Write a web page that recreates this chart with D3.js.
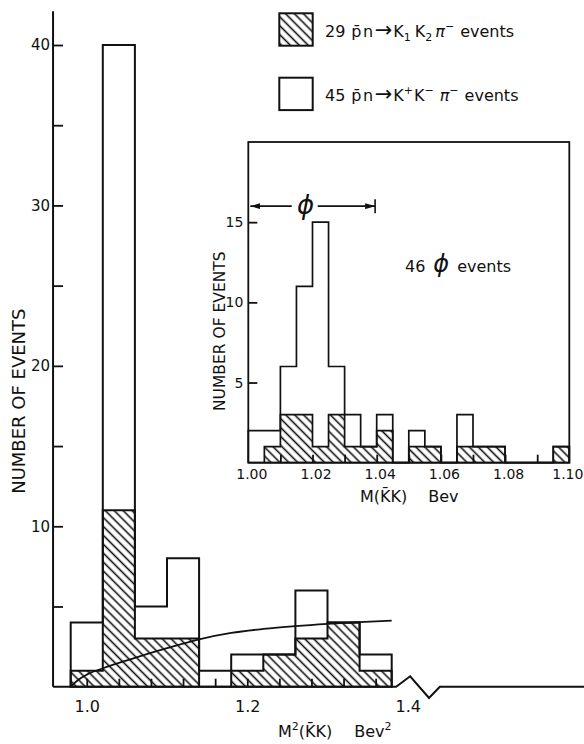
<!DOCTYPE html>
<html>
<head>
<meta charset="utf-8">
<script src="https://cdn.jsdelivr.net/npm/d3@7"></script>
<style>
  body { margin: 0; background: #fff; }
  svg text { font-family: "DejaVu Sans", sans-serif; fill: #111; }
</style>
</head>
<body>
<svg id="chart" width="584" height="744"></svg>
<script>
// main histogram, M^2(KK) in bins of 0.04 Bev^2
const mainEdges = [0.98, 1.02, 1.06, 1.10, 1.14, 1.18, 1.22, 1.26, 1.30, 1.34, 1.38];
const mainTotal = [4, 40, 5, 8, 1, 2, 2, 6, 4, 2];      // K1K2pi + K+K-pi
const mainHatched = [1, 11, 3, 3, 0, 1, 2, 3, 4, 1];    // K1K2pi only
const mainMinorY = [5, 10, 15, 20, 25, 30, 35, 40];
const mainLabelY = [10, 20, 30, 40];
const mainTickX = [1.00, 1.04, 1.08, 1.12, 1.16, 1.20, 1.24, 1.28, 1.32, 1.36];
const mainLabelX = [1.0, 1.2, 1.4];

// phase space curve
const curveM2 = [0.98, 0.99, 1.00, 1.02, 1.06, 1.10, 1.14, 1.18, 1.22, 1.26, 1.30, 1.34, 1.38];
const curveN = [0, 0.45, 0.75, 1.15, 1.8, 2.4, 2.95, 3.35, 3.6, 3.78, 3.92, 4.03, 4.12];

// inset, M(KK) in bins of 0.005 Bev
const insetEdges = [1.000, 1.005, 1.010, 1.015, 1.020, 1.025, 1.030, 1.035, 1.040, 1.045, 1.050,
                    1.055, 1.060, 1.065, 1.070, 1.075, 1.080, 1.085, 1.090, 1.095, 1.100];
const insetTotal = [2, 2, 6, 11, 15, 6, 3, 1, 3, 0, 2, 1, 0, 3, 1, 1, 0, 0, 0, 1];
const insetHatched = [0, 1, 3, 3, 1, 3, 1, 1, 2, 0, 1, 1, 0, 1, 1, 1, 0, 0, 0, 1];
const insetMinorY = [5, 10, 15];
const insetTickX = [1.01, 1.02, 1.03, 1.04, 1.05, 1.06, 1.07, 1.08, 1.09];
const insetLabelX = [1.00, 1.02, 1.04, 1.06, 1.08, 1.10];
const phiBand = [1.0, 1.0395];

const ink = "#111";
const width = 584;

const svg = d3.select("#chart");

let xMain = d3.scaleLinear().domain([1.0, 1.4]).range([86.75, 407.75]);
let yMain = d3.scaleLinear().domain([0, 40]).range([686.7, 45]);
let mainXMin = 0.958;   // where the y axis sits
let mainYMax = 42.1;

let xIn = d3.scaleLinear().domain([1.0, 1.1]).range([248.3, 569.3]);
let yIn = d3.scaleLinear().domain([0, 20]).range([462.7, 142]);

// hatch pattern
const defs = svg.append("defs");
defs.append("pattern")
  .attr("id", "hatch")
  .attr("patternUnits", "userSpaceOnUse")
  .attr("width", 10)
  .attr("height", 6.3)
  .attr("patternTransform", "rotate(45)")
  .append("line")
    .attr("x1", 0).attr("x2", 10)
    .attr("y1", 3.1).attr("y2", 3.1)
    .attr("stroke", ink)
    .attr("stroke-width", 1.6);

defs.append("marker")
  .attr("id", "head")
  .attr("viewBox", "0 0 10 6")
  .attr("refX", 10).attr("refY", 3)
  .attr("markerWidth", 10).attr("markerHeight", 6)
  .attr("markerUnits", "userSpaceOnUse")
  .attr("orient", "auto-start-reverse")
  .append("path")
    .attr("d", "M0,0 L10,3 L0,6 Z")
    .attr("fill", ink);

function stepPoints(edges, counts) {
  let pts = [[edges[0], 0]];
  counts.forEach((c, i) => {
    pts.push([edges[i], c], [edges[i + 1], c]);
  });
  pts.push([edges[edges.length - 1], 0]);
  return pts;
}

function styleAxis(g, size) {
  g.select(".domain").remove();
  g.attr("font-family", null).attr("font-size", size);
  g.selectAll("line").attr("stroke", ink).attr("stroke-width", 1.8);
  g.selectAll("text").attr("fill", ink);
}

function drawHist(x, y, edges, total, hatched, sw) {
  let line = d3.line().x(d => x(d[0])).y(d => y(d[1]));
  let hp = stepPoints(edges, hatched);
  svg.append("path")
    .attr("d", line(hp) + "Z")
    .attr("fill", "url(#hatch)")
    .attr("stroke", ink)
    .attr("stroke-width", sw);
  svg.append("path")
    .attr("d", line(stepPoints(edges, total)))
    .attr("fill", "none")
    .attr("stroke", ink)
    .attr("stroke-width", sw)
    .attr("stroke-linejoin", "miter");
}

// ---------- main plot ----------
drawHist(xMain, yMain, mainEdges, mainTotal, mainHatched, 2);

svg.append("path")
  .datum(curveM2.map((m, i) => [m, curveN[i]]))
  .attr("d", d3.line().curve(d3.curveMonotoneX).x(d => xMain(d[0])).y(d => yMain(d[1])))
  .attr("fill", "none")
  .attr("stroke", ink)
  .attr("stroke-width", 1.8);

// y axis
svg.append("line")
  .attr("x1", xMain(mainXMin)).attr("x2", xMain(mainXMin))
  .attr("y1", yMain(0)).attr("y2", yMain(mainYMax))
  .attr("stroke", ink).attr("stroke-width", 2);

svg.append("g")
  .attr("transform", "translate(" + xMain(mainXMin) + ",0)")
  .call(d3.axisRight(yMain).tickValues(mainMinorY).tickSize(10).tickFormat(""))
  .call(g => styleAxis(g, 15));

svg.append("g")
  .attr("transform", "translate(" + xMain(mainXMin) + ",0)")
  .call(d3.axisLeft(yMain).tickValues(mainLabelY).tickSize(0).tickPadding(3))
  .call(g => styleAxis(g, 15));

// x axis with break
let breakPts = [[mainXMin, 0], [1.3855, 0], [1.403, 0.65], [1.4265, -0.7], [1.440, 0]];
svg.append("path")
  .attr("d", d3.line().x(d => xMain(d[0])).y(d => yMain(d[1]))(breakPts) + "H" + width)
  .attr("fill", "none")
  .attr("stroke", ink)
  .attr("stroke-width", 2);

svg.append("g")
  .attr("transform", "translate(0," + yMain(0) + ")")
  .call(d3.axisTop(xMain).tickValues(mainTickX).tickSize(8).tickFormat(""))
  .call(g => styleAxis(g, 16));

svg.append("g")
  .attr("transform", "translate(0," + yMain(0) + ")")
  .call(d3.axisBottom(xMain).tickValues(mainLabelX).tickSize(0).tickPadding(14).tickFormat(d3.format(".1f")))
  .call(g => styleAxis(g, 16));

svg.append("text")
  .attr("transform", "translate(25," + yMain(17.8) + ") rotate(-90)")
  .attr("text-anchor", "middle")
  .attr("font-size", 18)
  .text("NUMBER OF EVENTS");

let xt = svg.append("text")
  .attr("x", 278).attr("y", 737)
  .attr("font-size", 16);
xt.append("tspan").text("M");
xt.append("tspan").attr("font-size", 11).attr("dy", -7).text("2");
xt.append("tspan").attr("dy", 7).text("(K\u0304K)");
xt.append("tspan").attr("dx", 22).text("Bev");
xt.append("tspan").attr("font-size", 11).attr("dy", -7).text("2");

// ---------- legend ----------
let legendRows = [
  { y: 13.3, hatched: true },
  { y: 77.7, hatched: false }
];
svg.selectAll(".legbox")
  .data(legendRows)
  .enter()
  .append("rect")
    .attr("class", "legbox")
    .attr("x", 279.3)
    .attr("y", d => d.y)
    .attr("width", 33.4)
    .attr("height", 32.4)
    .attr("fill", d => d.hatched ? "url(#hatch)" : "#fff")
    .attr("stroke", ink)
    .attr("stroke-width", 2);

function legendText(y, count, sup1, sup2, subs) {
  let t = svg.append("text").attr("x", 325).attr("y", y).attr("font-size", 16);
  t.append("tspan").text(count);
  t.append("tspan").attr("dx", 6).attr("letter-spacing", 1.5).text("p\u0304n");
  t.append("tspan").attr("font-size", 21).attr("dx", 0).text("\u2192");
  t.append("tspan").attr("dx", 1).text("K");
  if (subs) {
    t.append("tspan").attr("font-size", 11).attr("dy", 4).text("1");
    t.append("tspan").attr("dy", -4).attr("dx", 4).text("K");
    t.append("tspan").attr("font-size", 11).attr("dy", 4).text("2");
    t.append("tspan").attr("dy", -4).attr("dx", 3).attr("font-style", "italic").text("\u03c0");
  } else {
    t.append("tspan").attr("font-size", 11).attr("dy", -7).text(sup1);
    t.append("tspan").attr("dy", 7).attr("dx", 1).text("K");
    t.append("tspan").attr("font-size", 11).attr("dy", -7).text(sup2);
    t.append("tspan").attr("dy", 7).attr("dx", 6).attr("font-style", "italic").text("\u03c0");
  }
  t.append("tspan").attr("font-size", 11).attr("dy", -7).text("\u2212");
  t.append("tspan").attr("dy", 7).attr("dx", 6).text("events");
}
legendText(36.7, "29", null, null, true);
legendText(101, "45", "+", "\u2212", false);

// ---------- inset ----------
svg.append("rect")
  .attr("x", xIn(1.0)).attr("y", yIn(20))
  .attr("width", xIn(1.1) - xIn(1.0))
  .attr("height", yIn(0) - yIn(20))
  .attr("fill", "#fff")
  .attr("stroke", ink)
  .attr("stroke-width", 1.8);

drawHist(xIn, yIn, insetEdges, insetTotal, insetHatched, 1.7);

svg.append("g")
  .attr("transform", "translate(" + xIn(1.0) + ",0)")
  .call(d3.axisRight(yIn).tickValues(insetMinorY).tickSize(9).tickFormat(""))
  .call(g => styleAxis(g, 14));

svg.append("g")
  .attr("transform", "translate(" + xIn(1.0) + ",0)")
  .call(d3.axisLeft(yIn).tickValues(insetMinorY).tickSize(0).tickPadding(5))
  .call(g => styleAxis(g, 14));

svg.append("g")
  .attr("transform", "translate(0," + yIn(0) + ")")
  .call(d3.axisTop(xIn).tickValues(insetTickX).tickSize(8).tickFormat(""))
  .call(g => styleAxis(g, 14));

svg.append("g")
  .attr("transform", "translate(0," + yIn(0) + ")")
  .call(d3.axisBottom(xIn).tickValues(insetLabelX).tickSize(0).tickPadding(6).tickFormat(d3.format(".2f")))
  .call(g => styleAxis(g, 14))
  .call(g => g.selectAll("text").attr("dx", (d, i, n) => i === n.length - 1 ? -2 : 3));

svg.append("text")
  .attr("transform", "translate(225," + yIn(8.2) + ") rotate(-90)")
  .attr("text-anchor", "middle")
  .attr("font-size", 15.5)
  .text("NUMBER OF EVENTS");

let it = svg.append("text")
  .attr("x", 360).attr("y", 502)
  .attr("font-size", 16);
it.append("tspan").text("M(K\u0304K)");
it.append("tspan").attr("dx", 21).text("Bev");

// phi band arrow
let phiY = yIn(16);
let phiMid = xIn((phiBand[0] + phiBand[1]) / 2) - 6;
svg.append("line")
  .attr("x1", phiMid - 14).attr("x2", xIn(phiBand[0]) + 2)
  .attr("y1", phiY).attr("y2", phiY)
  .attr("stroke", ink).attr("stroke-width", 1.6)
  .attr("marker-end", "url(#head)");
svg.append("line")
  .attr("x1", phiMid + 12).attr("x2", xIn(phiBand[1]))
  .attr("y1", phiY).attr("y2", phiY)
  .attr("stroke", ink).attr("stroke-width", 1.6)
  .attr("marker-end", "url(#head)");
svg.append("line")
  .attr("x1", xIn(phiBand[1])).attr("x2", xIn(phiBand[1]))
  .attr("y1", phiY - 7).attr("y2", phiY + 7)
  .attr("stroke", ink).attr("stroke-width", 1.6);
svg.append("text")
  .attr("x", phiMid).attr("y", phiY + 8)
  .attr("text-anchor", "middle")
  .attr("font-size", 26)
  .attr("font-style", "italic")
  .text("\u03d5");

let ev = svg.append("text")
  .attr("x", 405).attr("y", 271.7)
  .attr("font-size", 16);
ev.append("tspan").text("46");
ev.append("tspan").attr("dx", 8).attr("font-size", 24).attr("font-style", "italic").text("\u03d5");
ev.append("tspan").attr("dx", 8).text("events");
</script>
</body>
</html>
